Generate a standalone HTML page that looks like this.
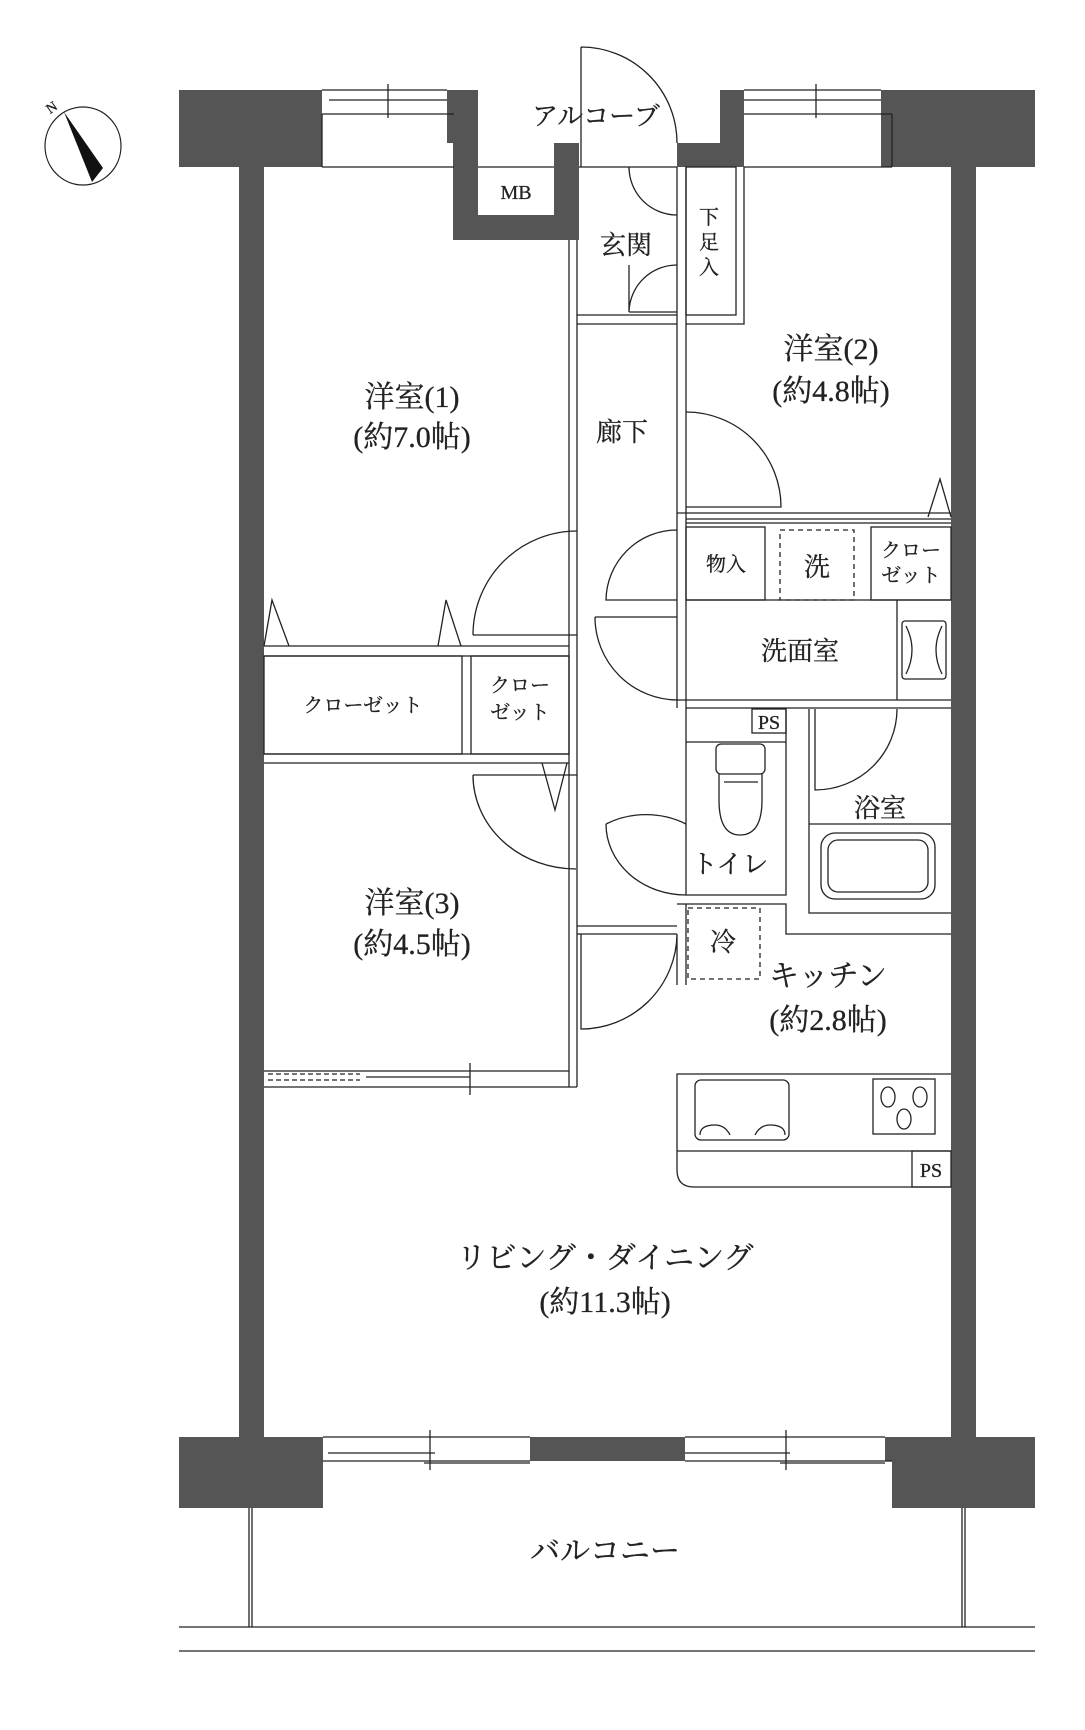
<!DOCTYPE html>
<html><head><meta charset="utf-8"><style>
html,body{margin:0;padding:0;background:#fff}
svg{display:block}
text{font-family:"Liberation Serif","Noto Serif CJK SC",serif;fill:#222;text-anchor:middle;stroke:#222;stroke-width:0.3}
.l{font-size:30px}
.m{font-size:26px}
.s{font-size:20px}
</style></head><body>
<svg width="1085" height="1730" viewBox="0 0 1085 1730" xmlns="http://www.w3.org/2000/svg">
<g fill="none" stroke="#222" stroke-width="1.5">
<ellipse cx="83" cy="146" rx="38" ry="39" stroke-width="1.2"/>
</g>
<polygon points="64,112 103,168 92,182" fill="#111"/>
<text x="52" y="112" style="font-size:14px" transform="rotate(-35 52 108)">N</text>

<g fill="#555">
<rect x="179" y="90" width="143" height="77"/>
<rect x="447" y="90" width="31" height="53"/>
<rect x="453" y="143" width="25" height="97"/>
<rect x="453" y="215" width="126" height="25"/>
<rect x="554" y="143" width="25" height="97"/>
<rect x="677" y="143" width="67" height="24"/>
<rect x="720" y="90" width="24" height="77"/>
<rect x="881" y="90" width="154" height="77"/>
<rect x="239" y="160" width="25" height="1285"/>
<rect x="951" y="160" width="25" height="1285"/>
<rect x="179" y="1437" width="144" height="71"/>
<rect x="530" y="1437" width="155" height="24"/>
<rect x="885" y="1437" width="150" height="24"/>
<rect x="892" y="1437" width="143" height="71"/>
</g>

<g fill="none" stroke="#222" stroke-width="1.3">
<path d="M322,90 H447 M329,100 H447 M322,114 H454 M322,167 H454 M322,114 V167"/>
<line x1="388" y1="84" x2="388" y2="118"/>
<path d="M744,90 H881 M744,100 H881 M744,114 H892 M744,167 H892 M892,114 V167"/>
<line x1="816" y1="84" x2="816" y2="118"/>
<path d="M478,167 H554"/>
<path d="M579,167 H677"/>
<path d="M581,47 V167 M581,47 A96,96 0 0 1 677,143"/>
<path d="M677,167 V708 M686,167 V708"/>
<path d="M569,240 V1087 M577,240 V1087"/>
<path d="M629,167 A48,48 0 0 0 677,215 M629,167 V170"/>
<path d="M629,312 A48,48 0 0 1 677,265 M629,312 H677 M629,265 V312"/>
<path d="M577,315 H677 M577,324 H677"/>
<rect x="686" y="167" width="50" height="148"/>
<path d="M744,167 V324 H686"/>
<path d="M686,412 A95,95 0 0 1 781,507 H686"/>
<path d="M677,513 H951 M686,519 H951"/>
<path d="M928,517 L940,479 L951,517"/>
<rect x="686" y="527" width="79" height="73"/>
<rect x="871" y="527" width="80" height="73"/>
<rect x="780" y="530" width="74" height="70" stroke-dasharray="5,4"/>
<path d="M686,523 H951"/>
<path d="M677,530 A71,71 0 0 0 606,600 H677"/>
<path d="M595,617 H677 M595,617 A83,83 0 0 0 678,700"/>
<path d="M686,600 H951 M897,600 V700"/>
<rect x="902" y="621" width="44" height="58" rx="3"/>
<path d="M906,626 Q918,650 906,674 M942,626 Q930,650 942,674"/>
<path d="M677,700 H951 M686,708 H951"/>
<rect x="752" y="709" width="34" height="24"/>
<path d="M686,708 V742 H786 V895 H686 M786,709 V742 M686,742 V895"/>
<rect x="716" y="744" width="49" height="30" rx="5"/>
<path d="M719,774 V800 Q719,835 740,835 Q762,835 762,800 V774"/>
<path d="M724,782 H758"/>
<path d="M686,824 A80,70 0 0 0 606,824 M606,824 A80,71 0 0 0 686,895"/>
<path d="M809,709 V913 H951 M809,824 H951 M951,709"/>
<path d="M815,709 V790 A82,81 0 0 0 897,709"/>
<rect x="821" y="833" width="114" height="66" rx="14"/>
<rect x="828" y="840" width="100" height="52" rx="10"/>
<path d="M677,904 H786 V934 H951"/>
<rect x="688" y="908" width="72" height="71" stroke-dasharray="5,4"/>
<path d="M577,926 H677 M577,934 H677"/>
<path d="M581,934 V1029 A96,96 0 0 0 677,934 M677,934 V985 M686,904 V985"/>
<path d="M951,1074 H677 V1170 Q677,1187 694,1187 H951 M677,1151 H951"/>
<rect x="695" y="1080" width="94" height="60" rx="6"/>
<path d="M700,1135 Q700,1125 715,1125 Q725,1125 730,1135 M755,1135 Q760,1125 770,1125 Q785,1125 785,1135"/>
<rect x="873" y="1079" width="62" height="55"/>
<ellipse cx="888" cy="1097" rx="7" ry="10"/>
<ellipse cx="920" cy="1097" rx="7" ry="10"/>
<ellipse cx="904" cy="1119" rx="7" ry="10"/>
<rect x="912" y="1151" width="39" height="36"/>
<path d="M264,646 H569 M264,656 H569"/>
<path d="M264,646 L272,600 L289,646 M438,646 L446,600 L461,646"/>
<path d="M473,635 A104,104 0 0 1 577,531 M473,635 H577"/>
<rect x="264" y="656" width="198" height="98"/>
<rect x="471" y="656" width="98" height="98"/>
<path d="M264,754 H569 M264,763 H569"/>
<path d="M473,775 H577 M473,775 A103,94 0 0 0 576,869"/>
<path d="M542,763 L555,810 L567,763"/>
<path d="M264,1071 H569 M264,1087 H577 M366,1077 H470 M470,1063 V1095"/>
<path d="M268,1074 H360 M268,1080 H360" stroke-dasharray="5,3"/>
<path d="M323,1437 H530 M328,1453 H435 M424,1463 H530 M323,1461 H530 M685,1437 H885 M685,1453 H790 M780,1463 H885 M685,1461 H892"/>
<line x1="430" y1="1430" x2="430" y2="1470"/>
<line x1="786" y1="1430" x2="786" y2="1470"/>
<path d="M249,1508 V1627 M252,1508 V1627 M962,1508 V1627 M965,1508 V1627"/>
<path d="M179,1627 H1035 M179,1651 H1035"/>
</g>

<text class="m" x="596" y="125">アルコーブ</text>
<text class="s" x="516" y="199">MB</text>
<text class="m" x="626" y="254">玄関</text>
<text class="s" x="709" y="224">下</text>
<text class="s" x="709" y="249">足</text>
<text class="s" x="709" y="274">入</text>
<text class="l" x="412" y="407">洋室(1)</text>
<text class="l" x="412" y="447">(約7.0帖)</text>
<text class="l" x="831" y="359">洋室(2)</text>
<text class="l" x="831" y="401">(約4.8帖)</text>
<text class="m" x="622" y="441">廊下</text>
<text class="s" x="726" y="571">物入</text>
<text class="m" x="817" y="576">洗</text>
<text class="s" x="911" y="557">クロー</text>
<text class="s" x="911" y="582">ゼット</text>
<text class="m" x="800" y="660">洗面室</text>
<text class="s" x="363" y="712">クローゼット</text>
<text class="s" x="520" y="692">クロー</text>
<text class="s" x="520" y="719">ゼット</text>
<text class="s" x="769" y="729">PS</text>
<text class="m" x="730" y="873">トイレ</text>
<text class="m" x="880" y="817">浴室</text>
<text class="l" x="412" y="913">洋室(3)</text>
<text class="l" x="412" y="954">(約4.5帖)</text>
<text class="m" x="723" y="951">冷</text>
<text class="l" x="828" y="986">キッチン</text>
<text class="l" x="828" y="1030">(約2.8帖)</text>
<text class="s" x="931" y="1177">PS</text>
<text class="l" x="605" y="1268">リビング・ダイニング</text>
<text class="l" x="605" y="1312">(約11.3帖)</text>
<text class="l" x="605" y="1561">バルコニー</text>
</svg>
</body></html>
